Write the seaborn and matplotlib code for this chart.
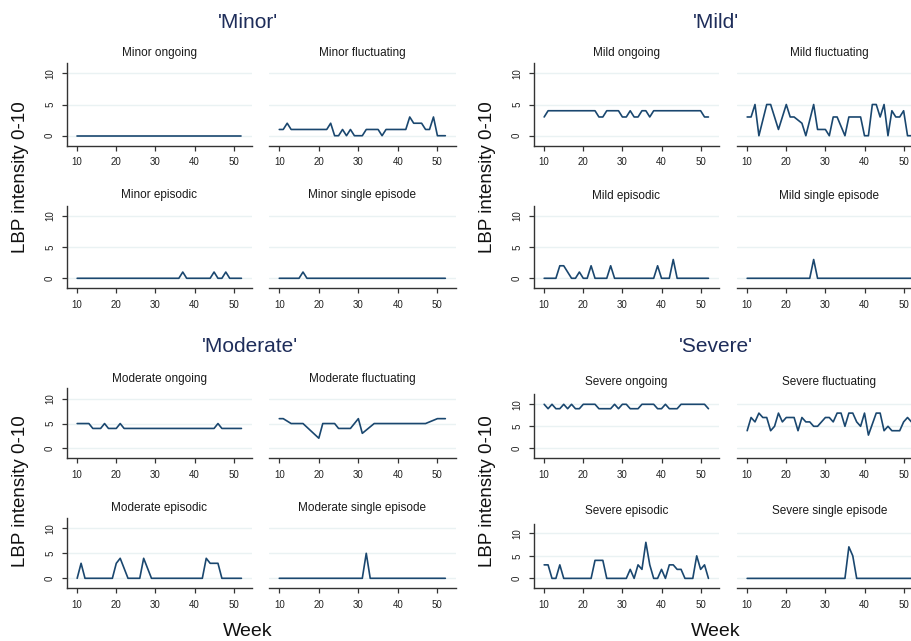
import numpy as np
import pandas as pd
import matplotlib
matplotlib.use("Agg")
import matplotlib.pyplot as plt
import seaborn as sns

nan = np.nan

# weeks of follow-up
weeks = list(range(10, 53))

# LBP intensity per week (10..52); nan = week not recorded
minor_ongoing = [0, 0, 0, 0, 0, 0, 0, 0, 0, 0,
                 0, 0, 0, 0, 0, 0, 0, 0, 0, 0,
                 0, 0, 0, 0, 0, 0, 0, 0, 0, 0,
                 0, 0, 0, 0, 0, 0, 0, 0, 0, 0,
                 0, 0, 0]
minor_fluctuating = [1, 1, 2, 1, 1, 1, 1, 1, 1, 1,
                     1, 1, 1, 2, 0, 0, 1, 0, 1, 0,
                     0, 0, 1, 1, 1, 1, 0, 1, 1, 1,
                     1, 1, 1, 3, 2, 2, 2, 1, 1, 3,
                     0, 0, 0]
minor_episodic = [0, 0, 0, 0, 0, 0, 0, 0, 0, 0,
                  0, 0, 0, 0, 0, 0, 0, 0, 0, 0,
                  0, 0, 0, 0, 0, 0, 0, 1, 0, 0,
                  0, 0, 0, 0, 0, 1, 0, 0, 1, 0,
                  0, 0, 0]
minor_single = [0, 0, 0, 0, 0, 0, 1, 0, 0, 0,
                0, 0, 0, 0, 0, 0, 0, 0, 0, 0,
                0, 0, 0, 0, 0, 0, 0, 0, 0, 0,
                0, 0, 0, 0, 0, 0, 0, 0, 0, 0,
                0, 0, 0]

mild_ongoing = [3, 4, 4, 4, 4, 4, 4, 4, 4, 4,
                4, 4, 4, 4, 3, 3, 4, 4, 4, 4,
                3, 3, 4, 3, 3, 4, 4, 3, 4, 4,
                4, 4, 4, 4, 4, 4, 4, 4, 4, 4,
                4, 3, 3]
mild_fluctuating = [3, 3, 5, 0, nan, 5, 5, 3, 1, 3,
                    5, 3, 3, nan, 2, 0, nan, 5, 1, 1,
                    1, 0, 3, 3, nan, 0, 3, 3, 3, 3,
                    0, 0, 5, 5, 3, 5, 0, 4, 3, 3,
                    4, 0, 0]
mild_episodic = [0, 0, 0, 0, 2, 2, 1, 0, 0, 1,
                 0, 0, 2, 0, 0, 0, 0, 2, 0, 0,
                 0, 0, 0, 0, 0, 0, 0, 0, 0, 2,
                 0, 0, 0, 3, 0, 0, 0, 0, 0, 0,
                 0, 0, 0]
mild_single = [0, 0, 0, 0, 0, 0, 0, 0, 0, 0,
               0, 0, 0, 0, 0, 0, 0, 3, 0, 0,
               0, 0, 0, 0, 0, 0, 0, 0, 0, 0,
               0, 0, 0, 0, 0, 0, 0, 0, 0, 0,
               0, 0, 0]

moderate_ongoing = [5, 5, 5, 5, 4, 4, 4, 5, 4, 4,
                    4, 5, 4, 4, 4, 4, 4, 4, 4, 4,
                    4, 4, 4, 4, 4, 4, 4, 4, 4, 4,
                    4, 4, 4, 4, 4, 4, 5, 4, 4, 4,
                    4, 4, 4]
moderate_fluctuating = [6, 6, nan, 5, 5, 5, 5, nan, nan, nan,
                        2, 5, 5, 5, 5, 4, 4, 4, 4, 5,
                        6, 3, nan, nan, 5, 5, 5, 5, 5, 5,
                        5, 5, 5, 5, 5, 5, 5, 5, nan, nan,
                        6, 6, 6]
moderate_episodic = [0, 3, 0, 0, 0, 0, 0, 0, 0, 0,
                     3, 4, 2, 0, 0, 0, 0, 4, 2, 0,
                     0, 0, 0, 0, 0, 0, 0, 0, 0, 0,
                     0, 0, 0, 4, 3, 3, 3, 0, 0, 0,
                     0, 0, 0]
moderate_single = [0, 0, 0, 0, 0, 0, 0, 0, 0, 0,
                   0, 0, 0, 0, 0, 0, 0, 0, 0, 0,
                   0, 0, 5, 0, 0, 0, 0, 0, 0, 0,
                   0, 0, 0, 0, 0, 0, 0, 0, 0, 0,
                   0, 0, 0]

severe_ongoing = [10, 9, 10, 9, 9, 10, 9, 10, 9, 9,
                  10, 10, 10, 10, 9, 9, 9, 9, 10, 9,
                  10, 10, 9, 9, 9, 10, 10, 10, 10, 9,
                  9, 10, 9, 9, 9, 10, 10, 10, 10, 10,
                  10, 10, 9]
severe_fluctuating = [4, 7, 6, 8, 7, 7, 4, 5, 8, 6,
                      7, 7, 7, 4, 7, 6, 6, 5, 5, 6,
                      7, 7, 6, 8, 8, 5, 8, 8, 6, 5,
                      8, 3, nan, 8, 8, 4, 5, 4, 4, 4,
                      6, 7, 6]
severe_episodic = [3, 3, 0, 0, 3, 0, 0, 0, 0, 0,
                   0, 0, 0, 4, 4, 4, 0, 0, 0, 0,
                   0, 0, 2, 0, 3, 2, 8, 3, 0, 0,
                   2, 0, 3, 3, 2, 2, 0, 0, 0, 5,
                   2, 3, 0]
severe_single = [0, 0, 0, 0, 0, 0, 0, 0, 0, 0,
                 0, 0, 0, 0, 0, 0, 0, 0, 0, 0,
                 0, 0, 0, 0, 0, 0, 7, 5, 0, 0,
                 0, 0, 0, 0, 0, 0, 0, 0, 0, 0,
                 0, 0, 0]

group_names = ["Minor", "Mild", "Moderate", "Severe"]
panel_names = ["ongoing", "fluctuating", "episodic", "single episode"]
series = {
    "Minor": [minor_ongoing, minor_fluctuating, minor_episodic, minor_single],
    "Mild": [mild_ongoing, mild_fluctuating, mild_episodic, mild_single],
    "Moderate": [moderate_ongoing, moderate_fluctuating, moderate_episodic, moderate_single],
    "Severe": [severe_ongoing, severe_fluctuating, severe_episodic, severe_single],
}

rows = []
for g in group_names:
    for p, vals in zip(panel_names, series[g]):
        for w, v in zip(weeks, vals):
            rows.append({"group": g, "panel": p, "week": w, "value": v})
df = pd.DataFrame(rows)

sns.set_theme(style="white")
plt.rcParams["font.family"] = ["Liberation Sans", "DejaVu Sans"]

W, H = 912, 641
fig = plt.figure(figsize=(W / 100, H / 100), dpi=100)

line_color = "#1a476f"
grid_color = "#eaf2f3"
axis_color = "#333333"
title_color = "#1e2d5a"

# layout in pixels: column x-ranges, row y-ranges + ylim, title positions
cols = {"left": [(67, 252), (269, 456)], "right": [(534, 719), (737, 922)]}
layout = {
    "Minor": dict(side="left", rows=[(63.3, 145.7, (-1.6, 11.6)), (205.7, 288.3, (-1.6, 11.6))],
                  sub_y=[53, 195], title=(248, 22), ylab=(21, 177)),
    "Mild": dict(side="right", rows=[(63.3, 145.7, (-1.6, 11.6)), (205.7, 288.3, (-1.6, 11.6))],
                 sub_y=[53, 195.5], title=(716, 22), ylab=(488, 177)),
    "Moderate": dict(side="left", rows=[(388.3, 458.3, (-2.1, 12.2)), (518.3, 588.3, (-2.0, 12.0))],
                     sub_y=[379.3, 508.3], title=(250, 347), ylab=(21, 491)),
    "Severe": dict(side="right", rows=[(394, 458.3, (-2.27, 12.34)), (524.3, 588.3, (-2.2, 12.0))],
                   sub_y=[381.7, 510.7], title=(716, 347), ylab=(488, 491)),
}

for g in group_names:
    lay = layout[g]
    for i, p in enumerate(panel_names):
        r, c = divmod(i, 2)
        x0, x1 = cols[lay["side"]][c]
        y0, y1, ylim = lay["rows"][r]
        ax = fig.add_axes([x0 / W, 1 - y1 / H, (x1 - x0) / W, (y1 - y0) / H])
        sub = df[(df["group"] == g) & (df["panel"] == p)].dropna()
        for yv in (0, 5, 10):
            ax.axhline(yv, color=grid_color, lw=1.0, zorder=0)
        sns.lineplot(data=sub, x="week", y="value", ax=ax, color=line_color,
                     linewidth=1.2, errorbar=None)
        ax.set_xlim(7.4, 54.7)
        ax.set_ylim(*ylim)
        ax.set_xlabel("")
        ax.set_ylabel("")
        ax.set_xticks([10, 20, 30, 40, 50])
        ax.set_yticks([0, 5, 10])
        ax.tick_params(axis="x", length=3.6, width=0.9, color=axis_color,
                       labelsize=7, labelcolor="#222222", pad=4.5, bottom=True)
        for s in ("top", "right"):
            ax.spines[s].set_visible(False)
        ax.spines["bottom"].set_color(axis_color)
        ax.spines["bottom"].set_linewidth(1.0)
        if c == 0:
            ax.spines["left"].set_color(axis_color)
            ax.spines["left"].set_linewidth(1.0)
            ax.tick_params(axis="y", length=3.6, width=0.9, color=axis_color,
                           labelsize=7, labelcolor="#222222", pad=5, left=True,
                           labelrotation=90)
            for lab in ax.get_yticklabels():
                lab.set_va("center")
        else:
            ax.spines["left"].set_visible(False)
            ax.tick_params(axis="y", left=False, labelleft=False)
        ax.set_facecolor("none")
        cx = (x0 + x1) / 2
        fig.text(cx / W, 1 - lay["sub_y"][r] / H, f"{g} {p}", ha="center", va="center",
                 fontsize=8.5, color="#1a1a1a")
    tx, ty = lay["title"]
    fig.text(tx / W, 1 - ty / H, f"'{g}'", ha="center", va="center",
             fontsize=15, color=title_color)
    lx, ly = lay["ylab"]
    fig.text(lx / W, 1 - ly / H, "LBP intensity 0-10", ha="center", va="center",
             rotation=90, fontsize=13.5, color="#111111")

for wx in (248, 716):
    fig.text(wx / W, 1 - 632 / H, "Week", ha="center", va="center", fontsize=14, color="#111111")

fig.savefig("out.png", dpi=100, facecolor="white")
